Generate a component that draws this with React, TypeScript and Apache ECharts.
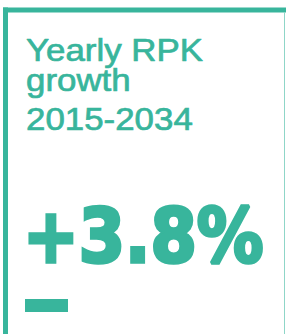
import React, { useEffect, useRef } from "react";
import * as echarts from "echarts";

const titleLines: string[] = ["Yearly RPK", "growth", "2015-2034"];
const growthValue: number[] = [3.8];
const valueLabel = (v: number) => (v >= 0 ? "+" : "") + v.toFixed(1) + "%";

const TEAL = "#38b59c";

export default function App() {
  const ref = useRef<HTMLDivElement>(null);
  useEffect(() => {
    if (!ref.current) return;
    const chart = echarts.init(ref.current, undefined, { renderer: "svg" });
    const titleY = [50, 80, 119];
    chart.setOption({
      animation: false,
      backgroundColor: "#ffffff",
      graphic: [
        { type: "rect", shape: { x: 3, y: 7.5, width: 283, height: 5 }, style: { fill: TEAL } },
        { type: "rect", shape: { x: 3, y: 7.5, width: 5, height: 327 }, style: { fill: TEAL } },
        { type: "rect", shape: { x: 284, y: 12, width: 1, height: 322 }, style: { fill: "#8fd6c8" } },
        ...titleLines.map((t, i) => ({
          type: "text",
          x: 26,
          y: titleY[i],
          scaleX: 1.09,
          style: {
            text: t,
            x: 0,
            y: 0,
            fill: TEAL,
            stroke: TEAL,
            lineWidth: 0.7,
            font: "32px 'Liberation Sans', Arial, sans-serif",
            align: "left",
            verticalAlign: "middle",
          },
        })),
        {
          type: "text",
          x: 23,
          y: 237,
          scaleX: 0.9,
          style: {
            text: valueLabel(growthValue[0]),
            x: 0,
            y: 0,
            fill: TEAL,
            stroke: TEAL,
            lineWidth: 3.5,
            font: "bold 74px 'DejaVu Sans', sans-serif",
            align: "left",
            verticalAlign: "middle",
          },
        },
        { type: "rect", shape: { x: 25, y: 299, width: 43, height: 13 }, style: { fill: TEAL } },
      ],
    });
    return () => chart.dispose();
  }, []);
  return (
    <div
      ref={ref}
      style={{ position: "fixed", left: 0, top: 0, width: 286, height: 334 }}
    />
  );
}
